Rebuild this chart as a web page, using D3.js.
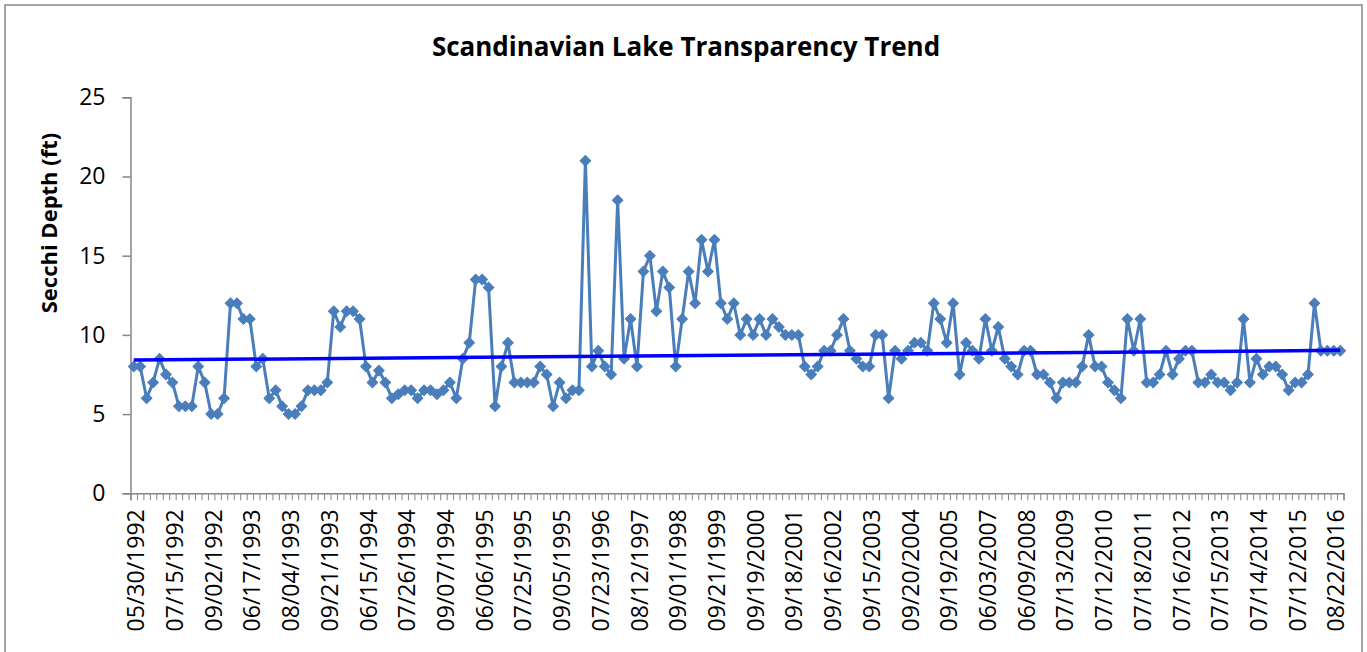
<!DOCTYPE html>
<html>
<head>
<meta charset="utf-8">
<script src="https://cdn.jsdelivr.net/npm/d3@7"></script>
<style>
  html, body { margin: 0; padding: 0; background: #fff; }
  svg { display: block; }
</style>
</head>
<body>
<div class="chart"><svg></svg></div>
<script>
"use strict";

// Secchi depth readings (ft), in sampling order
const depth = [
  8, 8, 6, 7, 8.5, 7.5, 7, 5.5, 5.5, 5.5,
  8, 7, 5, 5, 6, 12, 12, 11, 11, 8,
  8.5, 6, 6.5, 5.5, 5, 5, 5.5, 6.5, 6.5, 6.5,
  7, 11.5, 10.5, 11.5, 11.5, 11, 8, 7, 7.75, 7,
  6, 6.25, 6.5, 6.5, 6, 6.5, 6.5, 6.25, 6.5, 7,
  6, 8.5, 9.5, 13.5, 13.5, 13, 5.5, 8, 9.5, 7,
  7, 7, 7, 8, 7.5, 5.5, 7, 6, 6.5, 6.5,
  21, 8, 9, 8, 7.5, 18.5, 8.5, 11, 8, 14,
  15, 11.5, 14, 13, 8, 11, 14, 12, 16, 14,
  16, 12, 11, 12, 10, 11, 10, 11, 10, 11,
  10.5, 10, 10, 10, 8, 7.5, 8, 9, 9, 10,
  11, 9, 8.5, 8, 8, 10, 10, 6, 9, 8.5,
  9, 9.5, 9.5, 9, 12, 11, 9.5, 12, 7.5, 9.5,
  9, 8.5, 11, 9, 10.5, 8.5, 8, 7.5, 9, 9,
  7.5, 7.5, 7, 6, 7, 7, 7, 8, 10, 8,
  8, 7, 6.5, 6, 11, 9, 11, 7, 7, 7.5,
  9, 7.5, 8.5, 9, 9, 7, 7, 7.5, 7, 7,
  6.5, 7, 11, 7, 8.5, 7.5, 8, 8, 7.5, 6.5,
  7, 7, 7.5, 12, 9, 9, 9, 9
];

// dates shown on the category axis (every 6th sample)
const labelDates = [
  "05/30/1992", "07/15/1992", "09/02/1992", "06/17/1993", "08/04/1993",
  "09/21/1993", "06/15/1994", "07/26/1994", "09/07/1994", "06/06/1995",
  "07/25/1995", "09/05/1995", "07/23/1996", "08/12/1997", "09/01/1998",
  "09/21/1999", "09/19/2000", "09/18/2001", "09/16/2002", "09/15/2003",
  "09/20/2004", "09/19/2005", "06/03/2007", "06/09/2008", "07/13/2009",
  "07/12/2010", "07/18/2011", "07/16/2012", "07/15/2013", "07/14/2014",
  "07/12/2015", "08/22/2016"
];
const LABEL_STEP = 6;
const yTicks = [0, 5, 10, 15, 20, 25];

const WIDTH = 1367;
const HEIGHT = 652;
const PLOT = { left: 130.5, right: 1343.5, top: 97.3, bottom: 493.3 };
const FONT = "'Open Sans', 'Liberation Sans', sans-serif";
const SERIES_COLOR = '#4A7EBB';
const AXIS_COLOR = '#868686';

const svg = d3.select('.chart').select('svg')
    .attr('width', WIDTH)
    .attr('height', HEIGHT);

// chart frame
svg.append('rect')
    .attr('x', 5)
    .attr('y', 5)
    .attr('width', 1357)
    .attr('height', 700)
    .attr('fill', 'none')
    .attr('stroke', AXIS_COLOR)
    .attr('stroke-width', 1.5);

const n = depth.length;
const x = d3.scaleLinear().domain([0, n]).range([PLOT.left, PLOT.right]);
const y = d3.scaleLinear().domain([0, 25]).range([PLOT.bottom, PLOT.top]);
const cx = i => x(i + 0.5);

// title
svg.append('text')
    .attr('x', 686)
    .attr('y', 56)
    .attr('text-anchor', 'middle')
    .style('font-family', FONT)
    .style('font-weight', 'bold')
    .style('font-size', '26px')
    .text('Scandinavian Lake Transparency Trend');

// y axis
const gY = svg.append('g')
    .attr('transform', `translate(${PLOT.left},0)`)
    .call(d3.axisLeft(y).tickValues(yTicks).tickSize(8).tickPadding(17));
gY.select('.domain').attr('stroke', AXIS_COLOR).attr('stroke-width', 1.5);
gY.selectAll('.tick line').attr('stroke', AXIS_COLOR).attr('stroke-width', 1.5);
gY.selectAll('.tick text')
    .style('font-family', FONT)
    .style('font-size', '23px')
    .attr('fill', '#000');

svg.append('text')
    .attr('transform', 'translate(57,223) rotate(-90)')
    .attr('text-anchor', 'middle')
    .style('font-family', FONT)
    .style('font-weight', 'bold')
    .style('font-size', '22px')
    .text('Secchi Depth (ft)');

// x axis: tick marks between categories
const gX = svg.append('g')
    .attr('transform', `translate(0,${PLOT.bottom})`)
    .call(d3.axisBottom(x).tickValues(d3.range(n + 1)).tickSize(7).tickFormat(''));
gX.select('.domain').attr('stroke', AXIS_COLOR).attr('stroke-width', 1.5);
gX.selectAll('.tick line').attr('stroke', AXIS_COLOR).attr('stroke-width', 1);

// x axis: date labels on every 6th category
const labelIdx = d3.range(0, n, LABEL_STEP);
const gXL = svg.append('g')
    .attr('transform', `translate(0,${PLOT.bottom})`)
    .call(d3.axisBottom(x)
        .tickValues(labelIdx.map(i => i + 0.5))
        .tickSize(0)
        .tickFormat((d, k) => labelDates[k]));
gXL.select('.domain').remove();
gXL.selectAll('.tick text')
    .attr('transform', 'translate(2,16) rotate(-90)')
    .attr('x', 0)
    .attr('y', 0)
    .attr('dy', '0.35em')
    .attr('text-anchor', 'end')
    .style('font-family', FONT)
    .style('font-size', '23px')
    .attr('fill', '#000');

// series line + diamond markers
const line = d3.line()
    .x((d, i) => cx(i))
    .y(d => y(d));

svg.append('path')
    .datum(depth)
    .attr('d', line)
    .attr('fill', 'none')
    .attr('stroke', SERIES_COLOR)
    .attr('stroke-width', 3)
    .attr('stroke-linejoin', 'round');

const diamond = d3.symbol().type(d3.symbolSquare).size(56);
svg.append('g')
    .selectAll('path')
    .data(depth)
    .join('path')
    .attr('d', diamond)
    .attr('transform', (d, i) => `translate(${cx(i)},${y(d)}) rotate(45)`)
    .attr('fill', SERIES_COLOR)
    .attr('stroke', SERIES_COLOR)
    .attr('stroke-width', 1);

// linear trend (least squares over sample index)
const xs = d3.range(n);
const mx = d3.mean(xs);
const my = d3.mean(depth);
const slope = d3.sum(xs, i => (i - mx) * (depth[i] - my)) / d3.sum(xs, i => (i - mx) * (i - mx));
const icpt = my - slope * mx;

svg.append('line')
    .attr('x1', cx(0))
    .attr('y1', y(icpt))
    .attr('x2', cx(n - 1))
    .attr('y2', y(icpt + slope * (n - 1)))
    .attr('stroke', '#0000FF')
    .attr('stroke-width', 3.5);
</script>
</body>
</html>
